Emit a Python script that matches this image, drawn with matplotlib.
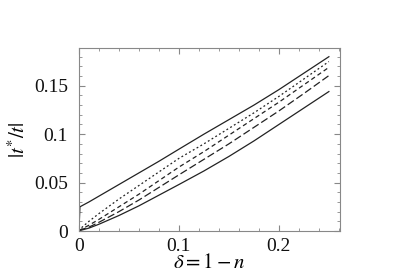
import matplotlib.pyplot as plt
from matplotlib.ticker import MultipleLocator

plt.rcParams['font.family'] = ['Liberation Serif', 'DejaVu Serif']
plt.rcParams['mathtext.fontset'] = 'stix'

delta = [0, 0.001, 0.01, 0.02, 0.04, 0.06, 0.08, 0.10, 0.125, 0.15, 0.175, 0.20, 0.225, 0.25]
top = [0, 0.025, 0.030, 0.036, 0.048, 0.060, 0.072, 0.0845, 0.100, 0.115, 0.130, 0.146, 0.163, 0.180]
dotted = [0, 0.002, 0.010, 0.018, 0.033, 0.047, 0.061, 0.075, 0.090, 0.106, 0.122, 0.139, 0.157, 0.175]
dashed = [0, 0.001, 0.006, 0.012, 0.025, 0.038, 0.052, 0.066, 0.082, 0.099, 0.116, 0.133, 0.151, 0.169]
longdash = [0, 0.001, 0.004, 0.009, 0.020, 0.032, 0.045, 0.058, 0.074, 0.090, 0.107, 0.124, 0.142, 0.1605]
bottom = [0, 0.0005, 0.003, 0.007, 0.016, 0.026, 0.037, 0.048, 0.062, 0.077, 0.093, 0.110, 0.127, 0.144]

fig = plt.figure(figsize=(4.09, 2.79), dpi=100)
ax = fig.add_axes([0.193, 0.172, 0.638, 0.656])

c = '#222222'
ax.plot(delta, top, color=c, lw=0.9)
ax.plot(delta, dotted, color=c, lw=0.9, dashes=(1.5, 2))
ax.plot(delta, dashed, color=c, lw=0.9, dashes=(3.5, 2.5))
ax.plot(delta, longdash, color=c, lw=0.9, dashes=(6, 2.5))
ax.plot(delta, bottom, color=c, lw=0.9)

ax.set_xlim(0, 0.261)
ax.set_ylim(0, 0.189)
ax.set_xticks([0, 0.1, 0.2])
ax.set_xticklabels(['0', '0.1', '0.2'])
ax.set_yticks([0, 0.05, 0.1, 0.15])
ax.set_yticklabels(['0', '0.05', '0.1', '0.15'])
ax.xaxis.set_minor_locator(MultipleLocator(0.02))
ax.yaxis.set_minor_locator(MultipleLocator(0.01))

for s in ax.spines.values():
    s.set_color('#888888')
    s.set_linewidth(0.8)
ax.tick_params(which='both', direction='in', top=True, right=True, color='#888888',
               labelsize=14, labelcolor='#111111')
ax.tick_params(which='major', length=4)
ax.tick_params(which='minor', length=2)
ax.tick_params(axis='x', pad=5)
ax.tick_params(axis='y', pad=8)

ax.set_xlabel(r'$\delta = 1 - n$', fontsize=15, labelpad=-1)
ax.set_ylabel(r'$|t^{*}/t|$', fontsize=15)
ax.yaxis.set_label_coords(-0.19, 0.5)

fig.savefig('out.png', dpi=100)
